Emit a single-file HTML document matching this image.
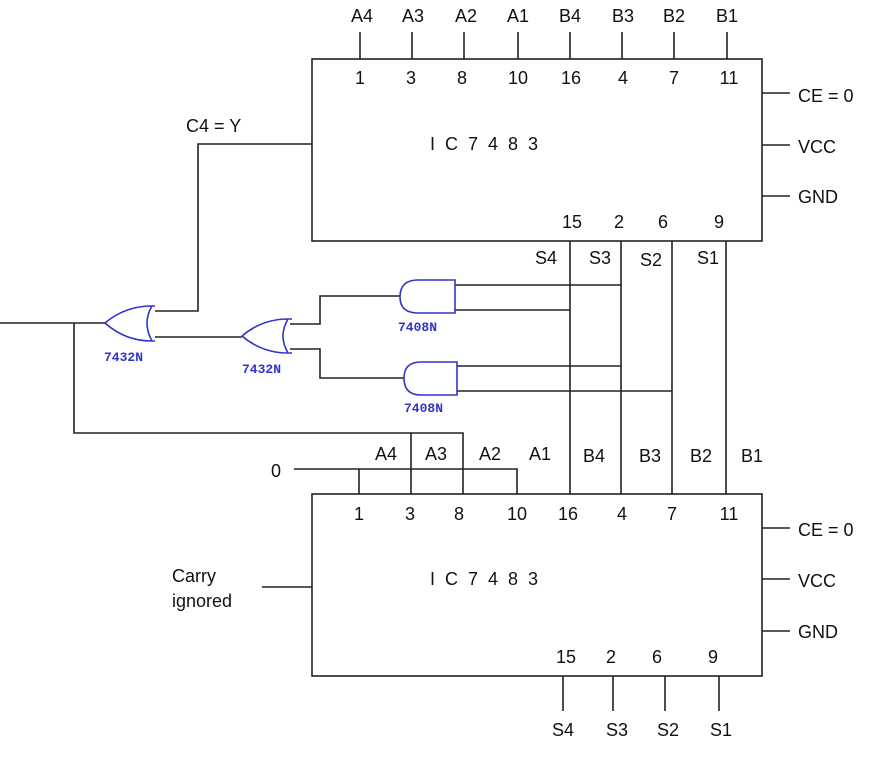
<!DOCTYPE html>
<html><head><meta charset="utf-8"><style>
html,body{margin:0;padding:0;background:#fff;}
svg{display:block;}
text{font-family:"Liberation Sans",Arial,sans-serif;font-size:18px;fill:#111;}
.b{font-family:"Liberation Mono","DejaVu Sans Mono",monospace;font-size:13px;fill:#3333cc;font-weight:bold;}
</style></head><body>
<svg width="878" height="757" viewBox="0 0 878 757" xmlns="http://www.w3.org/2000/svg">
<g stroke="#222" stroke-width="1.6" fill="none">
<!-- top box -->
<rect x="312" y="59" width="450" height="182"/>
<!-- top pins -->
<path d="M360 32V59M412 32V59M464 32V59M518 32V59M570 32V59M622 32V59M674 32V59M727 32V59"/>
<path d="M762 93H790M762 145H790M762 196H790"/>
<!-- bottom box -->
<rect x="312" y="494" width="450" height="182"/>
<path d="M762 528H790M762 579H790M762 631H790"/>
<path d="M563 676V711M613 676V711M665 676V711M719 676V711"/>
<path d="M262 587H312"/>
<!-- S lines -->
<path d="M570 241V494M621 241V494M672 241V494M726 241V494"/>
<!-- AND inputs -->
<path d="M455 285H621M455 310H570M457 366H621M457 391H672"/>
<!-- C4 -->
<path d="M312 144H198V311H155"/>
<!-- OR1 output -->
<path d="M0 323H105M74 323V433H463V494M411 433V494"/>
<path d="M294 469H517V494M359 469V494"/>
<!-- OR2 -> OR1 -->
<path d="M155 337H242"/>
<path d="M290 324H320V296H400M290 349H320V378H404"/>
</g>
<g stroke="#3333cc" stroke-width="1.6" fill="none">
<!-- OR1 -->
<path d="M105 323Q125 306 152 306H155M105 323Q125 341 152 341H155M152 306Q142 323 152 341"/>
<!-- OR2 -->
<path d="M242 336Q262 319 288 319H292M242 336Q262 353 288 353H292M288 319Q278 336 288 353"/>
<!-- AND upper -->
<path d="M455 280H418Q400 280 400 297Q400 313 418 313H455Z"/>
<!-- AND lower -->
<path d="M457 362H421Q404 362 404 378Q404 395 421 395H457Z"/>
</g>
<text class="b" x="104" y="361">7432N</text>
<text class="b" x="242" y="373">7432N</text>
<text class="b" x="398" y="331">7408N</text>
<text class="b" x="404" y="412">7408N</text>
<!-- top labels -->
<g text-anchor="middle">
<text x="362" y="22">A4</text><text x="413" y="22">A3</text><text x="466" y="22">A2</text><text x="518" y="22">A1</text>
<text x="570" y="22">B4</text><text x="623" y="22">B3</text><text x="674" y="22">B2</text><text x="727" y="22">B1</text>
<text x="360" y="84">1</text><text x="411" y="84">3</text><text x="462" y="84">8</text><text x="518" y="84">10</text>
<text x="571" y="84">16</text><text x="623" y="84">4</text><text x="674" y="84">7</text><text x="729" y="84">11</text>
<text x="572" y="228">15</text><text x="619" y="228">2</text><text x="663" y="228">6</text><text x="719" y="228">9</text>
<text x="546" y="264">S4</text><text x="600" y="264">S3</text><text x="651" y="266">S2</text><text x="708" y="264">S1</text>
<!-- bottom -->
<text x="386" y="460">A4</text><text x="436" y="460">A3</text><text x="490" y="460">A2</text><text x="540" y="460">A1</text>
<text x="594" y="462">B4</text><text x="650" y="462">B3</text><text x="701" y="462">B2</text><text x="752" y="462">B1</text>
<text x="359" y="520">1</text><text x="410" y="520">3</text><text x="459" y="520">8</text><text x="517" y="520">10</text>
<text x="568" y="520">16</text><text x="622" y="520">4</text><text x="672" y="520">7</text><text x="729" y="520">11</text>
<text x="566" y="663">15</text><text x="611" y="663">2</text><text x="657" y="663">6</text><text x="713" y="663">9</text>
<text x="563" y="736">S4</text><text x="617" y="736">S3</text><text x="668" y="736">S2</text><text x="721" y="736">S1</text>
<text x="276" y="477">0</text>
</g>
<text x="430" y="150" xml:space="preserve">I  C  7  4  8  3</text>
<text x="430" y="585" xml:space="preserve">I  C  7  4  8  3</text>
<text x="186" y="132">C4 = Y</text>
<text x="798" y="102">CE = 0</text><text x="798" y="153">VCC</text><text x="798" y="203">GND</text>
<text x="798" y="536">CE = 0</text><text x="798" y="587">VCC</text><text x="798" y="638">GND</text>
<text x="172" y="582">Carry</text><text x="172" y="607">ignored</text>
</svg>
</body></html>
